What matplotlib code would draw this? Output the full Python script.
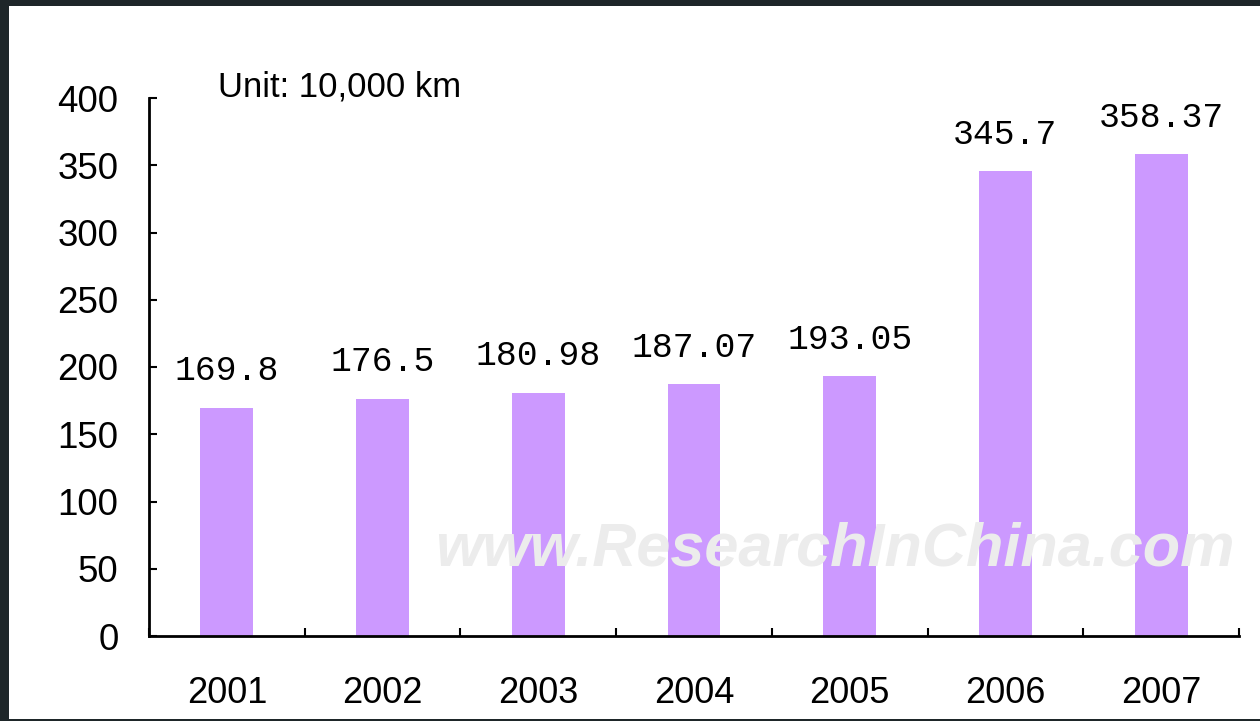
import matplotlib
matplotlib.use('Agg')
import matplotlib.pyplot as plt
from matplotlib.patches import Rectangle

# data
years = ['2001', '2002', '2003', '2004', '2005', '2006', '2007']
length = [169.8, 176.5, 180.98, 187.07, 193.05, 345.7, 358.37]
value_labels = ['169.8', '176.5', '180.98', '187.07', '193.05', '345.7', '358.37']
y_ticks = [0, 50, 100, 150, 200, 250, 300, 350, 400]

fig = plt.figure(figsize=(12.6, 7.21), dpi=100, facecolor='#1e2629')
# white panel inside the dark frame
fig.patches.append(Rectangle((9 / 1260, 2 / 721), 1.0, (719 - 6) / 721,
                             transform=fig.transFigure, facecolor='white',
                             edgecolor='none', zorder=-10))

ax = fig.add_axes([149 / 1260, (721 - 636) / 721, (1239 - 149) / 1260, (636 - 98) / 721])
ax.set_facecolor('white')

x = list(range(len(years)))
ax.bar(x, length, width=0.34, color='#cc99ff', zorder=2)

for xi, v, lab in zip(x, length, value_labels):
    ax.text(xi, v + 15, lab, ha='center', va='bottom', fontsize=25,
            family='Liberation Mono', color='black', zorder=3)

ax.set_xlim(-0.5, len(years) - 0.5)
ax.set_ylim(0, 400)
ax.set_yticks(y_ticks)
ax.set_yticklabels([str(t) for t in y_ticks], fontsize=26.5, family='Liberation Sans')

# category labels centred, tick marks on boundaries
ax.set_xticks(x)
ax.set_xticklabels(years, fontsize=26, family='Liberation Sans')
ax.tick_params(axis='x', which='major', length=0, pad=29)
ax.set_xticks([i - 0.5 for i in range(len(years) + 1)], minor=True)
ax.tick_params(axis='x', which='minor', direction='in', length=6, width=1.5, color='black')
ax.tick_params(axis='y', direction='in', length=6, width=1.5, pad=22, color='black')

for s in ['top', 'right']:
    ax.spines[s].set_visible(False)
for s in ['left', 'bottom']:
    ax.spines[s].set_linewidth(2)
    ax.spines[s].set_color('black')

ax.text(0.063, 1.02, 'Unit: 10,000 km', transform=ax.transAxes, fontsize=25,
        family='Liberation Sans', ha='left', va='center')

# watermark
ax.text(0.996, 0.16, 'www.ResearchInChina.com', transform=ax.transAxes, fontsize=44,
        family='Liberation Sans', style='italic', weight='bold', color='#ececec',
        ha='right', va='center', zorder=2.5)

fig.savefig('out.png', dpi=100, facecolor=fig.get_facecolor())
